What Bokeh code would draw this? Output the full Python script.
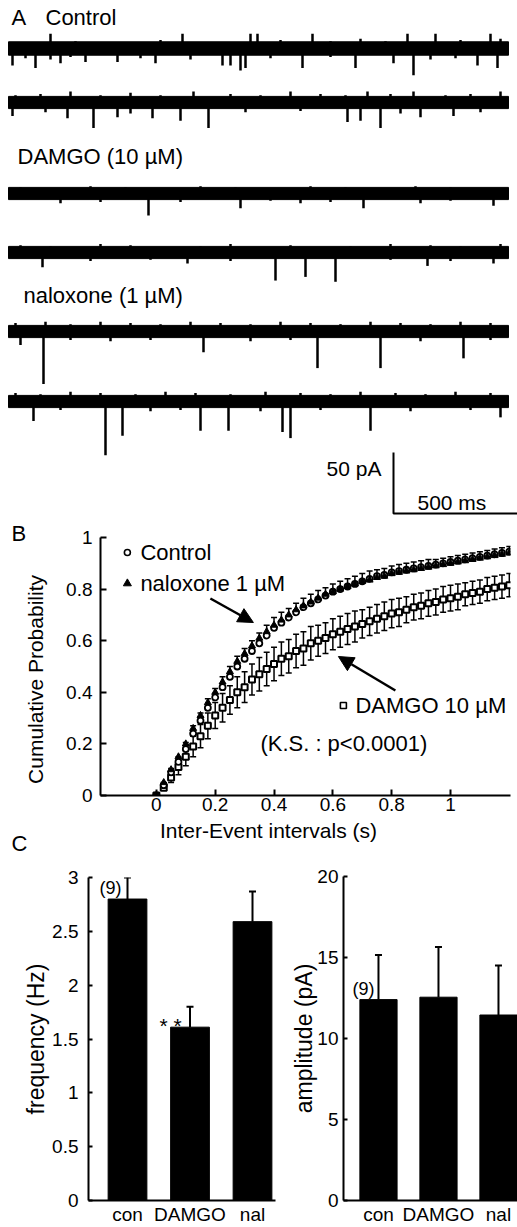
import math
from bokeh.plotting import figure
from bokeh.layouts import column, row
from bokeh.models import (Range1d, FixedTicker, NumeralTickFormatter, Arrow,
                          NormalHead, Whisker, TeeHead, ColumnDataSource)
from bokeh.embed import file_html
from bokeh.resources import INLINE
from bokeh.core.properties import value

FONT = "Liberation Sans"

# ---------------- Panel A : example sweeps ----------------
trace_labels = ["Control", "DAMGO (10 \u00b5M)", "naloxone (1 \u00b5M)"]
sweep_ms = 2000
scale_pA = 50
scale_ms = 500
# downward excursions: time (ms) and amplitude (pA)
ev_t = [
    [16, 108, 208, 308, 436, 588, 856, 888, 928, 948, 1176, 1388, 1540, 1620, 1876, 1956,
     68, 168, 248, 528, 728, 1048, 1288, 1688, 1788],
    [16, 236, 340, 436, 576, 688, 800, 1356, 1408, 1488, 1648, 1780,
     148, 488, 948, 1168, 1568, 1888],
    [208, 560, 928, 1168, 1420, 1648, 1940, 368, 688, 1048, 1288, 1768],
    [136, 716, 1068, 1188, 1308, 1676, 1940, 328, 568, 888, 1528, 1768],
    [48, 140, 780, 1236, 1488, 1820, 248, 408, 568, 968, 1128, 1648, 1928],
    [100, 388, 456, 768, 880, 1096, 1128, 1448, 1968, 208, 568, 688, 1008, 1248, 1608, 1848],
]
ev_a = [
    [-14, -16, -12, -11, -11, -12, -14, -14, -18, -16, -16, -16, -12, -22, -14, -16,
     -8, -9, -7, -8, -9, -8, -7, -9, -8],
    [-11, -13, -21, -12, -13, -15, -21, -16, -15, -21, -12, -11,
     -8, -9, -8, -7, -9, -8],
    [-8, -18, -12, -8, -12, -8, -10, -7, -7, -6, -7, -6],
    [-12, -9, -23, -20, -24, -11, -9, -7, -6, -7, -6, -7],
    [-11, -43, -17, -30, -30, -22, -7, -8, -7, -8, -7, -8, -7],
    [-16, -44, -28, -24, -24, -25, -30, -24, -13, -7, -8, -7, -8, -7, -8, -7],
]
# upward noise peaks
up_t = [
    [48, 168, 268, 348, 488, 608, 696, 788, 968, 996, 1088, 1216, 1288, 1408, 1508, 1596,
     1708, 1808, 1928, 1968],
    [28, 128, 248, 368, 488, 608, 740, 888, 1008, 1128, 1248, 1348, 1436, 1528, 1620, 1748,
     1848, 1968],
    [48, 188, 328, 468, 608, 768, 908, 1048, 1208, 1348, 1488, 1628, 1768, 1908],
    [48, 168, 368, 488, 768, 888, 1128, 1368, 1528, 1688, 1808, 1968],
    [28, 148, 248, 368, 488, 608, 728, 848, 968, 1088, 1208, 1328, 1448, 1568, 1688, 1808, 1928],
    [28, 128, 248, 368, 508, 628, 748, 888, 1028, 1168, 1288, 1408, 1548, 1668, 1788, 1928],
]
up_a = [
    [5, 12, 6, 5, 4, 7, 12, 5, 12, 12, 7, 12, 6, 8, 6, 12, 12, 7, 12, 8],
    [6, 7, 9, 6, 8, 6, 9, 7, 6, 9, 7, 6, 9, 7, 9, 6, 7, 9],
    [5, 4, 6, 5, 4, 6, 5, 4, 6, 5, 4, 6, 5, 4],
    [6, 5, 7, 6, 5, 7, 6, 5, 7, 6, 5, 7],
    [7, 8, 6, 8, 7, 6, 8, 7, 6, 8, 7, 6, 8, 7, 6, 8, 7],
    [7, 6, 8, 7, 6, 8, 7, 6, 8, 7, 6, 8, 7, 6, 8, 7],
]
noise_pp = [11, 10, 10, 10, 10, 10]

# ---------------- Panel B : cumulative distributions ----------------
ivl = [0.000, 0.025, 0.050, 0.075, 0.100, 0.125, 0.150, 0.175, 0.200, 0.225,
       0.250, 0.275, 0.300, 0.325, 0.350, 0.375, 0.400, 0.425, 0.450, 0.475,
       0.500, 0.525, 0.550, 0.575, 0.600, 0.625, 0.650, 0.675, 0.700, 0.725,
       0.750, 0.775, 0.800, 0.825, 0.850, 0.875, 0.900, 0.925, 0.950, 0.975,
       1.000, 1.025, 1.050, 1.075, 1.100, 1.125, 1.150, 1.175, 1.200]
cum_control = [0.00, 0.04, 0.09, 0.13, 0.18, 0.24, 0.29, 0.34, 0.38, 0.42,
               0.46, 0.50, 0.53, 0.56, 0.59, 0.62, 0.65, 0.67, 0.69, 0.71,
               0.73, 0.745, 0.76, 0.775, 0.79, 0.80, 0.81, 0.82, 0.83, 0.84,
               0.85, 0.855, 0.865, 0.87, 0.875, 0.88, 0.885, 0.89, 0.895, 0.90,
               0.905, 0.91, 0.915, 0.92, 0.925, 0.93, 0.935, 0.94, 0.945]
err_control = [0.0, 0.01, 0.015, 0.02, 0.025, 0.03, 0.03, 0.035, 0.035, 0.04,
               0.04, 0.04, 0.04, 0.04, 0.04, 0.04, 0.04, 0.04, 0.035, 0.035,
               0.035, 0.035, 0.035, 0.03, 0.03, 0.03, 0.03, 0.03, 0.03, 0.03,
               0.025, 0.025, 0.025, 0.025, 0.025, 0.025, 0.025, 0.025, 0.02, 0.02,
               0.02, 0.02, 0.02, 0.02, 0.02, 0.02, 0.02, 0.02, 0.02]
cum_naloxone = [0.00, 0.05, 0.10, 0.15, 0.20, 0.26, 0.31, 0.36, 0.40, 0.44,
                0.48, 0.52, 0.55, 0.58, 0.61, 0.635, 0.66, 0.68, 0.70, 0.72,
                0.735, 0.75, 0.765, 0.78, 0.79, 0.80, 0.81, 0.82, 0.83, 0.835,
                0.845, 0.85, 0.86, 0.865, 0.87, 0.875, 0.88, 0.885, 0.89, 0.895,
                0.90, 0.905, 0.91, 0.915, 0.92, 0.925, 0.93, 0.935, 0.94]
cum_damgo = [0.00, 0.03, 0.07, 0.11, 0.15, 0.19, 0.23, 0.27, 0.31, 0.34,
             0.37, 0.40, 0.42, 0.45, 0.47, 0.49, 0.51, 0.53, 0.54, 0.56,
             0.57, 0.59, 0.60, 0.61, 0.625, 0.635, 0.645, 0.655, 0.665, 0.675,
             0.685, 0.695, 0.705, 0.71, 0.72, 0.73, 0.735, 0.745, 0.75, 0.76,
             0.765, 0.77, 0.78, 0.785, 0.79, 0.80, 0.805, 0.81, 0.815]
err_damgo = [0.0, 0.01, 0.02, 0.03, 0.035, 0.04, 0.045, 0.05, 0.05, 0.055,
             0.055, 0.06, 0.06, 0.06, 0.065, 0.065, 0.065, 0.065, 0.065, 0.065,
             0.065, 0.065, 0.06, 0.06, 0.06, 0.06, 0.06, 0.06, 0.055, 0.055,
             0.055, 0.055, 0.055, 0.055, 0.05, 0.05, 0.05, 0.05, 0.05, 0.05,
             0.05, 0.05, 0.045, 0.045, 0.045, 0.045, 0.045, 0.045, 0.045]
b_ticks = [0, 0.2, 0.4, 0.6, 0.8, 1]

# ---------------- Panel C : bar charts ----------------
groups = ["con", "DAMGO", "nal"]
freq_mean = [2.80, 1.61, 2.59]
freq_sem = [0.20, 0.19, 0.28]
amp_mean = [12.4, 12.55, 11.45]
amp_sem = [2.75, 3.1, 3.05]
freq_ticks = [0, 0.5, 1, 1.5, 2, 2.5, 3]
amp_ticks = [0, 5, 10, 15, 20]
n_cells = "(9)"

W = 517
COMMON = dict(output_backend="svg", toolbar_location=None, frame_align=False,
              outline_line_color=None)


def txt(p, x, y, t, size, align="left", angle=0.0):
    p.text(x=[x], y=[y], text=[t], angle=[angle], text_font=value(FONT),
           text_font_size=size, text_align=align, text_baseline="middle",
           text_color="black")


def strip(w, h, top):
    # frameless figure whose data coordinates are page pixels (for free text)
    return figure(width=w, height=h, x_range=Range1d(0, w), y_range=Range1d(top + h, top),
                  min_border=0, x_axis_type=None, y_axis_type=None, **COMMON)


# ======== Figure A (page y 0..518) ========
A_H = 518
PX_PER_PA = 1.22
MS_PER_PX = 4.0


def ax_(rx):
    return (rx - 8) * MS_PER_PX


def ay_(ry):
    return -ry / PX_PER_PA


pA = figure(width=W, height=A_H, x_range=Range1d(ax_(0), ax_(W)),
            y_range=Range1d(ay_(A_H), ay_(0)), min_border=0,
            x_axis_type=None, y_axis_type=None, **COMMON)

base_px = [48, 102, 193, 252, 331, 401]
for i in range(6):
    off = ay_(base_px[i])
    h = noise_pp[i] / 2.0
    pA.quad(left=[0], right=[sweep_ms], bottom=[off - h], top=[off + h],
            fill_color="black", line_color="black")
    pA.segment(x0=ev_t[i], y0=[off] * len(ev_t[i]), x1=ev_t[i],
               y1=[off + a for a in ev_a[i]], line_color="black", line_width=2.5)
    pA.segment(x0=up_t[i], y0=[off] * len(up_t[i]), x1=up_t[i],
               y1=[off + a for a in up_a[i]], line_color="black", line_width=2.5)

txt(pA, ax_(11), ay_(17), "A", "22px")
for (lx, ly), t in zip([(45, 17), (17, 156), (23, 295)], trace_labels):
    txt(pA, ax_(lx), ay_(ly), t, "22px")

sb_t0 = ax_(393)
sb_y0 = ay_(513)
pA.line(x=[sb_t0, sb_t0, sb_t0 + scale_ms], y=[sb_y0 + scale_pA, sb_y0, sb_y0],
        line_color="black", line_width=2)
txt(pA, ax_(381), ay_(468), "%d pA" % scale_pA, "21px", align="right")
txt(pA, ax_(417), ay_(502), "%d ms" % scale_ms, "21px")

# ======== Row B (page y 518..820) ========
B_TOP = 518
B_H = 302
sB = strip(60, B_H, B_TOP)
txt(sB, 11, 533, "B", "22px")
txt(sB, 35, 679, "Cumulative Probability", "21px", align="center", angle=math.pi / 2)

pB = figure(width=W - 60, height=B_H, x_range=Range1d(-0.19, 1.204), y_range=Range1d(0, 1),
            min_border_left=40, min_border_right=7, min_border_top=19, min_border_bottom=25,
            **COMMON)
pB.xgrid.visible = False
pB.ygrid.visible = False


def bx(rx):
    return (rx - 156) / 294.1


def by(ry):
    return (795 - ry) / 258.0


for axis in (pB.xaxis[0], pB.yaxis[0]):
    axis.axis_line_width = 2
    axis.major_tick_in = 6
    axis.major_tick_out = 0
    axis.major_tick_line_width = 2
    axis.minor_tick_line_color = None
    axis.major_label_text_font = FONT
    axis.major_label_text_font_size = "19px"
    axis.major_label_text_color = "black"
    axis.formatter = NumeralTickFormatter(format="0.[0]")
    axis.ticker = FixedTicker(ticks=b_ticks)
pB.xaxis.major_label_standoff = 2
pB.yaxis.major_label_standoff = 8

src_d = ColumnDataSource(dict(x=ivl, y=cum_damgo,
                              lo=[a - b for a, b in zip(cum_damgo, err_damgo)],
                              hi=[a + b for a, b in zip(cum_damgo, err_damgo)]))
src_c = ColumnDataSource(dict(x=ivl, y=cum_control,
                              hi=[a + b for a, b in zip(cum_control, err_control)]))
src_n = ColumnDataSource(dict(x=ivl, y=cum_naloxone))

pB.add_layout(Whisker(source=src_d, base="x", lower="lo", upper="hi", line_width=1.5,
                      upper_head=TeeHead(size=6, line_width=1.5),
                      lower_head=TeeHead(size=6, line_width=1.5)))
pB.scatter("x", "y", source=src_d, marker="square", size=6, fill_color="white",
           line_color="black", line_width=2)
pB.add_layout(Whisker(source=src_c, base="x", lower="y", upper="hi", line_width=1.5,
                      upper_head=TeeHead(size=6, line_width=1.5), lower_head=None))
pB.scatter("x", "y", source=src_c, marker="circle", size=6, fill_color="white",
           line_color="black", line_width=1.8)
pB.scatter("x", "y", source=src_n, marker="triangle", size=7, fill_color="black",
           line_color="black")

# keys
pB.scatter(x=[bx(127)], y=[by(552)], marker="circle", size=6, fill_color="white",
           line_color="black", line_width=1.6)
pB.scatter(x=[bx(127)], y=[by(583)], marker="triangle", size=8, fill_color="black",
           line_color="black")
pB.scatter(x=[bx(343)], y=[by(705)], marker="square", size=6, fill_color="white",
           line_color="black", line_width=1.6)
txt(pB, bx(140), by(552), "Control", "22px")
txt(pB, bx(140), by(583), "naloxone 1 \u00b5M", "22px")
txt(pB, bx(355), by(705), "DAMGO 10 \u00b5M", "22px")
txt(pB, bx(260), by(743), "(K.S. : p<0.0001)", "22px")

pB.add_layout(Arrow(end=NormalHead(size=15, fill_color="black", line_color="black"),
                    x_start=bx(210), y_start=by(598), x_end=bx(253), y_end=by(622),
                    line_width=2.5))
pB.add_layout(Arrow(end=NormalHead(size=15, fill_color="black", line_color="black"),
                    x_start=bx(395), y_start=by(690), x_end=bx(338), y_end=by(656),
                    line_width=2.5))

# ======== middle strip (page y 820..858) ========
M_TOP = B_TOP + B_H
M_H = 38
sM = strip(W, M_H, M_TOP)
txt(sM, 268, 830, "Inter-Event intervals (s)", "21px", align="center")
txt(sM, 11, 843, "C", "22px")

# ======== Row C (page y 858..1227) ========
C_H = 1227 - M_TOP - M_H


def style_c(p, ticks, ylabel, lab_standoff, tick_standoff):
    p.xgrid.visible = False
    p.ygrid.visible = False
    for axis in (p.xaxis[0], p.yaxis[0]):
        axis.axis_line_width = 2
        axis.minor_tick_line_color = None
        axis.major_label_text_font = FONT
        axis.major_label_text_color = "black"
    p.yaxis.major_tick_in = 4
    p.yaxis.major_tick_out = 0
    p.yaxis.major_tick_line_width = 2
    p.yaxis.ticker = FixedTicker(ticks=ticks)
    p.yaxis.formatter = NumeralTickFormatter(format="0.[0]")
    p.yaxis.major_label_text_font_size = "19px"
    p.yaxis.major_label_standoff = tick_standoff
    p.yaxis.axis_label = ylabel
    p.yaxis.axis_label_text_font = FONT
    p.yaxis.axis_label_text_font_size = "23px"
    p.yaxis.axis_label_text_font_style = "normal"
    p.yaxis.axis_label_text_color = "black"
    p.yaxis.axis_label_standoff = lab_standoff
    p.xaxis.ticker = FixedTicker(ticks=[0, 1, 2])
    p.xaxis.major_label_overrides = {0: groups[0], 1: groups[1], 2: groups[2]}
    p.xaxis.major_tick_in = 0
    p.xaxis.major_tick_out = 0
    p.xaxis.major_label_text_font_size = "19px"
    p.xaxis.major_label_standoff = 3


xs = [0, 1, 2]
pC1 = figure(width=280, height=C_H, x_range=Range1d(-0.624, 2.368), y_range=Range1d(0, 3),
             min_border_left=88, min_border_right=5, min_border_top=19, min_border_bottom=24,
             **COMMON)
style_c(pC1, freq_ticks, "frequency (Hz)", 0, 10)
pC1.vbar(x=xs, top=freq_mean, width=0.62, fill_color="black", line_color="black")
src_f = ColumnDataSource(dict(x=xs, lo=freq_mean,
                              hi=[a + b for a, b in zip(freq_mean, freq_sem)]))
pC1.add_layout(Whisker(source=src_f, base="x", lower="lo", upper="hi", line_width=2,
                       upper_head=TeeHead(size=7, line_width=2), lower_head=None))


def cx1(rx):
    return (rx - 127) / 62.5


def cy1(ry):
    return (1203 - ry) / 108.67


txt(pC1, cx1(110), cy1(888), n_cells, "18px", align="center")
txt(pC1, cx1(170), cy1(1026), "* *", "21px", align="center")

pC2 = figure(width=W - 280, height=C_H, x_range=Range1d(-0.583, 2.317), y_range=Range1d(0, 20),
             min_border_left=63, min_border_right=0, min_border_top=18, min_border_bottom=27,
             **COMMON)
style_c(pC2, amp_ticks, "amplitude (pA)", -3, 5)
pC2.vbar(x=xs, top=amp_mean, width=0.62, fill_color="black", line_color="black")
src_a = ColumnDataSource(dict(x=xs, lo=amp_mean,
                              hi=[a + b for a, b in zip(amp_mean, amp_sem)]))
pC2.add_layout(Whisker(source=src_a, base="x", lower="lo", upper="hi", line_width=2,
                       upper_head=TeeHead(size=7, line_width=2), lower_head=None))


def cx2(rx):
    return (rx - 378) / 60.0


def cy2(ry):
    return (1200 - ry) / 16.2


txt(pC2, cx2(363), cy2(988), n_cells, "18px", align="center")

layout = column(pA, row(sB, pB), sM, row(pC1, pC2))
open("out.html", "w").write(file_html(layout, INLINE))
